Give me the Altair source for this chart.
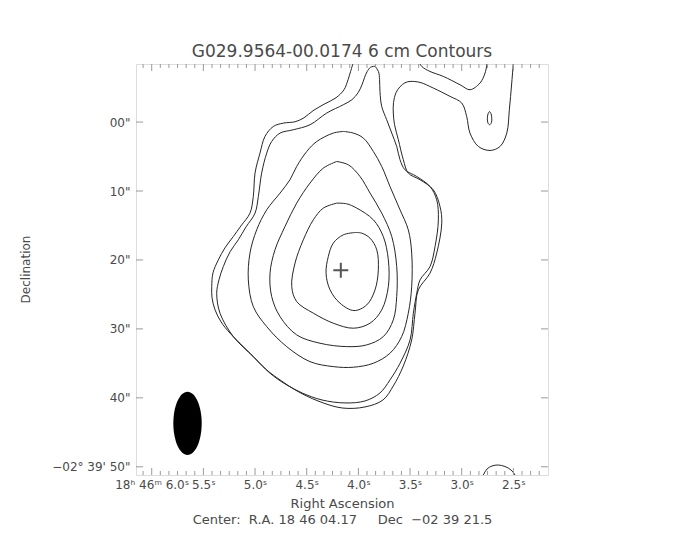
import altair as alt
import pandas as pd

NB = "\u00a0"
TITLE = "G029.9564-00.0174 6 cm Contours"
X_TITLE = "Right Ascension"
CENTER_NOTE = ("Center:" + NB * 2 + "R.A. 18 46 04.17" + NB * 5 + "Dec" + NB * 2
               + "\u221202 39 21.5")
Y_TITLE = "Declination"

# axis values (RA in seconds of 18h46m, Dec in arcsec of -02d39')
ra_ticks = [6.0, 5.5, 5.0, 4.5, 4.0, 3.5, 3.0, 2.5]
ra_minor = [6.0833, 5.9167, 5.8333, 5.75, 5.6667, 5.5833, 5.4167, 5.3333, 5.25,
            5.1667, 5.0833, 4.9167, 4.8333, 4.75, 4.6667, 4.5833, 4.4167, 4.3333,
            4.25, 4.1667, 4.0833, 3.9167, 3.8333, 3.75, 3.6667, 3.5833, 3.4167,
            3.3333, 3.25, 3.1667, 3.0833, 2.9167, 2.8333, 2.75, 2.6667, 2.5833,
            2.4167, 2.3333, 2.25]
dec_ticks = [0, 10, 20, 30, 40, 50]
ra_domain = [6.152, 2.165]
dec_domain = [51.19, -8.42]

# contour 1 (lowest level, open at the top edge)
c1_ra = [4.042, 4.076, 4.100, 4.139, 4.216, 4.323, 4.439, 4.526, 4.613, 4.726, 4.823,
         4.904, 4.952, 5.000, 5.017, 5.049, 5.136, 5.210, 5.291, 5.355, 5.407, 5.419,
         5.416, 5.387, 5.329, 5.242, 5.049, 4.887, 4.758, 4.594, 4.391, 4.158, 3.936,
         3.762, 3.662, 3.565, 3.484, 3.452, 3.420, 3.307, 3.242, 3.193, 3.210, 3.275,
         3.403, 3.517, 3.565, 3.613, 3.650, 3.662, 3.660, 3.636, 3.597, 3.549, 3.500,
         3.403, 3.275, 3.113, 3.000, 2.952, 2.920, 2.839, 2.726, 2.629, 2.564, 2.539,
         2.516, 2.498]
c1_dec = [-9.04, -7.30, -6.14, -4.69, -3.53, -2.66, -1.64, -0.62, -0.04, 0.15, 0.64,
          2.09, 4.50, 7.40, 10.80, 13.21, 15.05, 16.60, 18.24, 19.99, 21.87, 23.86,
          25.50, 27.24, 28.98, 30.62, 33.53, 35.95, 37.40, 39.00, 40.45, 41.47, 41.32,
          40.31, 38.27, 35.37, 31.60, 27.72, 24.34, 21.92, 19.01, 14.66, 12.25, 9.83,
          8.37, 7.40, 5.47, 2.57, 0.39, -1.31, -2.80, -4.25, -5.12, -5.70, -5.89,
          -5.75, -4.93, -3.72, -2.76, -0.81, 1.60, 3.54, 4.12, 3.54, 1.60, -1.79,
          -5.66, -9.04]

# contour 2
c2_ra = [3.839, 3.882, 3.916, 3.941, 3.965, 4.003, 4.062, 4.146, 4.306, 4.468, 4.630,
         4.758, 4.839, 4.887, 4.936, 4.968, 5.000, 5.087, 5.162, 5.242, 5.307, 5.349,
         5.371, 5.339, 5.210, 5.017, 4.855, 4.710, 4.545, 4.352, 4.129, 3.936, 3.791,
         3.694, 3.597, 3.500, 3.468, 3.435, 3.403, 3.307, 3.258, 3.226, 3.242, 3.307,
         3.435, 3.549, 3.597, 3.629, 3.677, 3.726, 3.774, 3.791, 3.795, 3.805, 3.839]
c2_dec = [-8.10, -7.95, -7.30, -6.43, -5.41, -4.25, -3.24, -2.51, -1.31, 0.39, 1.12,
          1.60, 2.82, 4.50, 7.40, 10.80, 13.21, 15.20, 17.08, 18.82, 20.96, 22.89,
          24.82, 27.72, 31.12, 34.02, 36.43, 37.98, 39.29, 40.31, 40.74, 40.45, 39.29,
          37.40, 34.98, 31.60, 27.72, 24.82, 22.89, 20.96, 18.05, 14.18, 11.28, 9.35,
          7.90, 6.92, 5.47, 3.54, 1.60, -0.33, -2.26, -4.40, -6.14, -7.30, -8.10]

# contour 3
c3_ra = [4.146, 4.243, 4.403, 4.500, 4.597, 4.662, 4.758, 4.887, 4.984, 5.049, 5.065,
         5.017, 4.887, 4.694, 4.468, 4.243, 4.049, 3.855, 3.694, 3.581, 3.517, 3.484,
         3.484, 3.517, 3.597, 3.694, 3.774, 3.855, 3.952, 4.049, 4.146]
c3_dec = [1.36, 1.60, 2.82, 4.27, 6.44, 8.37, 10.30, 12.73, 15.63, 19.01, 22.89,
          26.76, 29.67, 32.57, 34.75, 35.47, 35.56, 34.98, 33.53, 31.12, 27.72, 23.86,
          19.01, 15.63, 12.73, 9.35, 6.44, 4.27, 2.32, 1.60, 1.36]

# contour 4
c4_ra = [4.210, 4.339, 4.468, 4.597, 4.710, 4.807, 4.855, 4.839, 4.758, 4.597, 4.371,
         4.113, 3.919, 3.759, 3.662, 3.629, 3.629, 3.677, 3.774, 3.887, 3.984, 4.097, 4.210]
c4_dec = [5.72, 6.68, 8.85, 11.76, 15.15, 18.53, 21.92, 25.31, 28.22, 30.87, 32.08,
          32.57, 32.32, 31.12, 28.69, 25.31, 20.96, 16.60, 13.21, 10.30, 7.90, 6.20, 5.72]

# contour 5
c5_ra = [4.210, 4.339, 4.436, 4.533, 4.613, 4.645, 4.597, 4.436, 4.243, 4.049, 3.887,
         3.774, 3.710, 3.710, 3.759, 3.855, 4.016, 4.113, 4.210]
c5_dec = [11.76, 12.48, 14.18, 17.08, 20.46, 23.86, 26.04, 27.72, 29.17, 29.90, 29.17,
          27.24, 23.86, 19.99, 16.60, 14.18, 12.48, 11.86, 11.76]

# contour 6 (highest level)
c6_ra = [4.032, 4.146, 4.243, 4.291, 4.313, 4.274, 4.178, 4.042, 3.919, 3.839, 3.807,
         3.822, 3.887, 3.968, 4.032]
c6_dec = [16.02, 16.36, 17.56, 19.51, 21.92, 24.34, 26.27, 27.34, 26.52, 24.34, 21.44,
          18.53, 16.84, 16.11, 16.02]

# north-east tongue hanging from top edge
c7_ra = [3.428, 3.384, 3.307, 3.178, 3.016, 2.920, 2.823, 2.774, 2.749]
c7_dec = [-9.04, -8.03, -7.34, -6.62, -5.41, -4.69, -5.66, -7.11, -9.04]

# small island
c8_ra = [2.731, 2.716, 2.709, 2.713, 2.729, 2.745, 2.752, 2.745, 2.731]
c8_dec = [-1.54, -1.20, -0.48, 0.10, 0.39, 0.17, -0.48, -1.20, -1.54]

# arc at the bottom edge
c9_ra = [2.808, 2.791, 2.755, 2.707, 2.646, 2.581, 2.523, 2.484, 2.470]
c9_dec = [51.77, 51.19, 50.32, 49.88, 49.74, 49.96, 50.46, 51.19, 51.77]

beam_ra = [5.6535]
beam_dec = [43.69]
peak_ra = [4.17]
peak_dec = [21.5]

contours = [(c1_ra, c1_dec), (c2_ra, c2_dec), (c3_ra, c3_dec), (c4_ra, c4_dec),
            (c5_ra, c5_dec), (c6_ra, c6_dec), (c7_ra, c7_dec), (c8_ra, c8_dec),
            (c9_ra, c9_dec)]
frames = []
for k, (r, d) in enumerate(contours):
    f = pd.DataFrame({"ra": r, "dec": d})
    f["cid"] = k
    f["i"] = range(len(f))
    frames.append(f)
cdf = pd.concat(frames, ignore_index=True)

FONT = "DejaVu Sans"
TXT = "#4a4a4a"
GRAY = "#9a9a9a"

x_scale = alt.Scale(domain=ra_domain, nice=False, zero=False)
y_scale = alt.Scale(domain=dec_domain, nice=False, zero=False)

x_axis = alt.Axis(
    values=ra_ticks,
    labelExpr="datum.value == 6 ? '18\u02b0 46\u1d50 6.0\u02e2' : format(datum.value, '.1f') + '\u02e2'",
    ticks=False, domain=False, grid=False, labelOverlap=False, labelFlush=False,
    labelFont=FONT, labelFontSize=12, labelColor=TXT, labelPadding=4,
    title=[X_TITLE, CENTER_NOTE], titleFont=FONT, titleFontSize=13,
    titleFontWeight="normal", titleColor=TXT, titlePadding=7, titleLineHeight=16,
)
y_axis = alt.Axis(
    values=dec_ticks,
    labelExpr="datum.value == 50 ? '\u221202\u00b0 39\\' 50\"' : (datum.value < 10 ? '0' : '') + datum.value + '\"'",
    ticks=False, domain=False, grid=False, labelOverlap=False, labelFlush=False,
    labelFont=FONT, labelFontSize=12, labelColor=TXT, labelPadding=6,
    title=Y_TITLE, titleFont=FONT, titleFontSize=12, titleFontWeight="normal",
    titleColor=TXT, titleAngle=270, titleX=-111, titleY=205,
    titleAlign="center", titleBaseline="middle",
)

X = alt.X("ra:Q", scale=x_scale, axis=x_axis)
Y = alt.Y("dec:Q", scale=y_scale, axis=y_axis)

lines = alt.Chart(cdf).mark_line(
    clip=True, color="#262626", strokeWidth=1, interpolate="catmull-rom"
).encode(x=X, y=Y, detail="cid:N", order="i:Q")

maj = pd.DataFrame({"ra": ra_ticks})
mnr = pd.DataFrame({"ra": ra_minor})
ydf = pd.DataFrame({"dec": dec_ticks})

H = 411
W = 412
tick_style = dict(color=GRAY, strokeWidth=1)
bot_major = alt.Chart(maj).mark_rule(**tick_style).encode(x=X, y=alt.value(H), y2=alt.value(H - 7))
top_major = alt.Chart(maj).mark_rule(**tick_style).encode(x=X, y=alt.value(0), y2=alt.value(7))
bot_minor = alt.Chart(mnr).mark_rule(**tick_style).encode(x=X, y=alt.value(H), y2=alt.value(H - 4))
top_minor = alt.Chart(mnr).mark_rule(**tick_style).encode(x=X, y=alt.value(0), y2=alt.value(4))
left_ticks = alt.Chart(ydf).mark_rule(**tick_style).encode(y=Y, x=alt.value(0), x2=alt.value(7))
right_ticks = alt.Chart(ydf).mark_rule(**tick_style).encode(y=Y, x=alt.value(W), x2=alt.value(W - 7))

beam = alt.Chart(pd.DataFrame({"ra": beam_ra, "dec": beam_dec})).mark_point(
    shape="M0,-1C0.2474,-1 0.448,-0.5523 0.448,0C0.448,0.5523 0.2474,1 0,1"
          "C-0.2474,1 -0.448,0.5523 -0.448,0C-0.448,-0.5523 -0.2474,-1 0,-1Z",
    filled=True, color="black", opacity=1, size=4010,
).encode(x=X, y=Y)

peak = alt.Chart(pd.DataFrame({"ra": peak_ra, "dec": peak_dec})).mark_point(
    shape="M-1,0L1,0M0,-1L0,1", filled=False, color="#555555", strokeWidth=2,
    opacity=1, size=225,
).encode(x=X, y=Y)

chart = alt.layer(
    lines, bot_major, top_major, bot_minor, top_minor, left_ticks, right_ticks, beam, peak
).properties(
    width=W, height=H,
    title=alt.TitleParams(TITLE, font=FONT, fontSize=17, fontWeight="normal",
                          color=TXT, anchor="middle", offset=-10, baseline="alphabetic"),
    autosize=alt.AutoSizeParams(type="none"),
    padding={"left": 128, "top": 56, "right": 120, "bottom": 50},
).configure_view(stroke=GRAY, strokeWidth=1).configure(background="white")

chart.save("out.html", embed_options={"renderer": "svg", "actions": False})
